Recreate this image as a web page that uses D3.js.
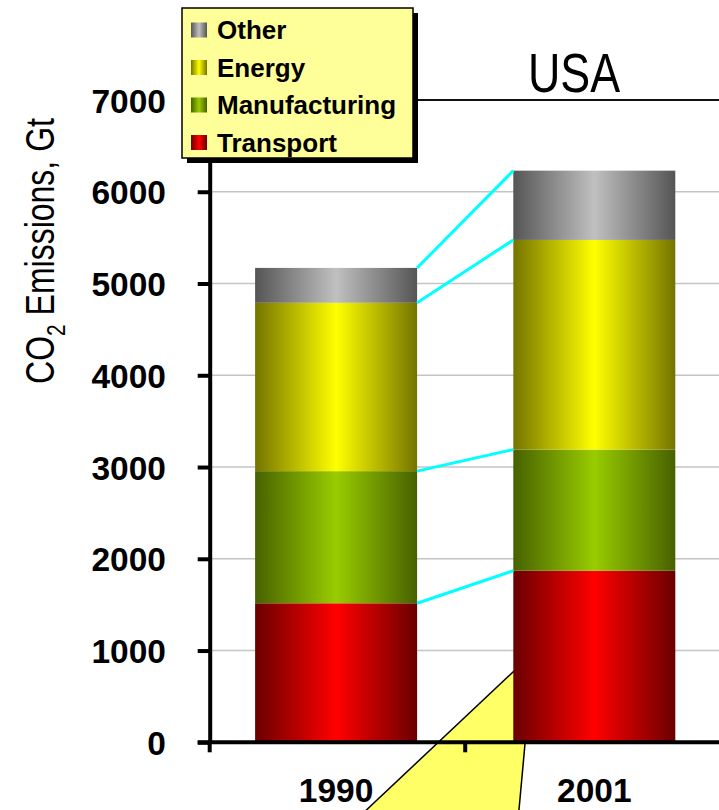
<!DOCTYPE html>
<html>
<head>
<meta charset="utf-8">
<script src="https://cdn.jsdelivr.net/npm/d3@7"></script>
<style>
  html, body { margin: 0; padding: 0; background: #fff; }
  svg { display: block; }
  text { font-family: "Liberation Sans", Arial, Helvetica, sans-serif; }
</style>
</head>
<body>
<svg id="chart" width="719" height="810"></svg>
<script>
// CO2 emissions by sector, USA
const categories = ["1990", "2001"];
const seriesNames = ["Transport", "Manufacturing", "Energy", "Other"];
const transport = [1515, 1870];
const manufacturing = [1440, 1320];
const energy = [1835, 2285];
const other = [380, 755];
const yTicks = [0, 1000, 2000, 3000, 4000, 5000, 6000, 7000];
const title = "USA";

// edge / centre colours of the cylinder-like shading
const shades = {
  Transport:     ["#6a0000", "#ff0000"],
  Manufacturing: ["#476100", "#99cc00"],
  Energy:        ["#747400", "#ffff00"],
  Other:         ["#555555", "#c0c0c0"]
};

const rows = categories.map((c, i) => ({
  year: c,
  Transport: transport[i],
  Manufacturing: manufacturing[i],
  Energy: energy[i],
  Other: other[i]
}));
const stacked = d3.stack().keys(seriesNames)(rows);

const svg = d3.select("#chart");
const W = 719;
const axisX = 209.7;
const x = d3.scaleBand().domain(categories).range([207, 723.4])
  .paddingInner(0.3726).paddingOuter(0.1863);
const y = d3.scaleLinear().domain([0, 7000]).range([742.3, 100]);

// gradients
const defs = svg.append("defs");
seriesNames.forEach(k => {
  const g = defs.append("linearGradient").attr("id", "grad-" + k)
    .attr("x1", "0%").attr("x2", "100%").attr("y1", "0%").attr("y2", "0%");
  g.append("stop").attr("offset", "0%").attr("stop-color", shades[k][0]);
  g.append("stop").attr("offset", "50%").attr("stop-color", shades[k][1]);
  g.append("stop").attr("offset", "100%").attr("stop-color", shades[k][0]);
});

// gridlines
svg.append("g").selectAll("line")
  .data(yTicks.filter(t => t > 0 && t < 7000))
  .join("line")
  .attr("x1", axisX).attr("x2", W)
  .attr("y1", d => y(d)).attr("y2", d => y(d))
  .attr("stroke", "#c4c4c4").attr("stroke-width", 1.5);

// top border of the plot
svg.append("line")
  .attr("x1", axisX).attr("x2", W)
  .attr("y1", y(7000)).attr("y2", y(7000))
  .attr("stroke", "#111").attr("stroke-width", 2);

// callout wedge pointing into the 2001 transport bar
const tip = [x("2001") + 20, y(975)];
const leftDir = [-1.062, 1], rightDir = [-0.0912, 1];
const reach = 190;
svg.append("polygon")
  .attr("points", [
    tip,
    [tip[0] + leftDir[0] * reach, tip[1] + leftDir[1] * reach],
    [tip[0] + rightDir[0] * reach, tip[1] + rightDir[1] * reach]
  ].map(p => p.join(",")).join(" "))
  .attr("fill", "#ffff66").attr("stroke", "#000").attr("stroke-width", 1.5);

// stacked bars
svg.append("g").selectAll("g")
  .data(stacked)
  .join("g")
  .attr("fill", d => "url(#grad-" + d.key + ")")
  .selectAll("rect")
  .data(d => d)
  .join("rect")
  .attr("x", d => x(d.data.year))
  .attr("width", x.bandwidth())
  .attr("y", d => y(d[1]))
  .attr("height", d => y(d[0]) - y(d[1]));

// connectors between matching segment tops
const x0 = x("1990") + x.bandwidth(), x1 = x("2001");
svg.append("g").selectAll("line")
  .data(stacked)
  .join("line")
  .attr("x1", x0).attr("y1", d => y(d[0][1]))
  .attr("x2", x1).attr("y2", d => y(d[1][1]))
  .attr("stroke", "#00ffff").attr("stroke-width", 3);

// y axis
const yAxis = svg.append("g")
  .attr("transform", `translate(${axisX},0)`)
  .call(d3.axisLeft(y).tickValues(yTicks).tickSize(12).tickSizeOuter(0).tickPadding(31.7)
    .tickFormat(d3.format("d")));
yAxis.select(".domain").attr("stroke", "#000").attr("stroke-width", 4);
yAxis.selectAll(".tick line").attr("stroke", "#000").attr("stroke-width", 4);
yAxis.selectAll(".tick text")
  .attr("font-family", "'Liberation Sans', Arial, sans-serif")
  .attr("font-size", 33.5).attr("font-weight", "bold").attr("fill", "#000")
  .attr("dy", "0.36em");
svg.append("line")
  .attr("x1", axisX).attr("x2", axisX)
  .attr("y1", y(0)).attr("y2", y(0) + 10)
  .attr("stroke", "#000").attr("stroke-width", 4);

// x axis
svg.append("line")
  .attr("x1", axisX - 12).attr("x2", W)
  .attr("y1", y(0)).attr("y2", y(0))
  .attr("stroke", "#000").attr("stroke-width", 4);
const bounds = d3.range(categories.length + 1).map(i => x.range()[0] + i * x.step());
svg.append("g").selectAll("line")
  .data(bounds.slice(1))
  .join("line")
  .attr("x1", d => d).attr("x2", d => d)
  .attr("y1", y(0)).attr("y2", y(0) + 10)
  .attr("stroke", "#000").attr("stroke-width", 4);
const xAxis = svg.append("g")
  .attr("transform", `translate(0,${y(0)})`)
  .call(d3.axisBottom(x).tickSize(0).tickPadding(0));
xAxis.select(".domain").remove();
xAxis.selectAll(".tick text")
  .attr("font-family", "'Liberation Sans', Arial, sans-serif")
  .attr("font-size", 33.5).attr("font-weight", "bold").attr("fill", "#000")
  .attr("dy", null).attr("y", 802 - y(0));

// y axis title
const yt = svg.append("text")
  .attr("transform", "translate(53.5,251) rotate(-90) scale(0.8,1)")
  .attr("text-anchor", "middle")
  .attr("font-size", 40).attr("fill", "#000");
yt.append("tspan").text("CO");
yt.append("tspan").attr("font-size", 26).attr("dy", 11).text("2");
yt.append("tspan").attr("dy", -11).text(" Emissions, Gt");

// chart title
svg.append("text")
  .attr("transform", "translate(574,92) scale(0.8,1)")
  .attr("text-anchor", "middle")
  .attr("font-size", 56).attr("fill", "#000")
  .text(title);

// legend
const lg = svg.append("g");
lg.append("rect").attr("x", 187).attr("y", 13).attr("width", 231).attr("height", 150).attr("fill", "#000");
lg.append("rect").attr("x", 182).attr("y", 8).attr("width", 231).attr("height", 150)
  .attr("fill", "#ffff99").attr("stroke", "#000").attr("stroke-width", 1.5);
const legendOrder = seriesNames.slice().reverse();
const item = lg.selectAll("g.item").data(legendOrder).join("g")
  .attr("class", "item")
  .attr("transform", (d, i) => `translate(0,${30 + i * 37.5})`);
item.append("rect").attr("x", 191).attr("y", -7.5).attr("width", 16).attr("height", 15)
  .attr("fill", d => "url(#grad-" + d + ")");
item.append("text").attr("x", 217).attr("y", 9)
  .attr("font-size", 26).attr("font-weight", "bold").attr("fill", "#000")
  .text(d => d);
</script>
</body>
</html>
